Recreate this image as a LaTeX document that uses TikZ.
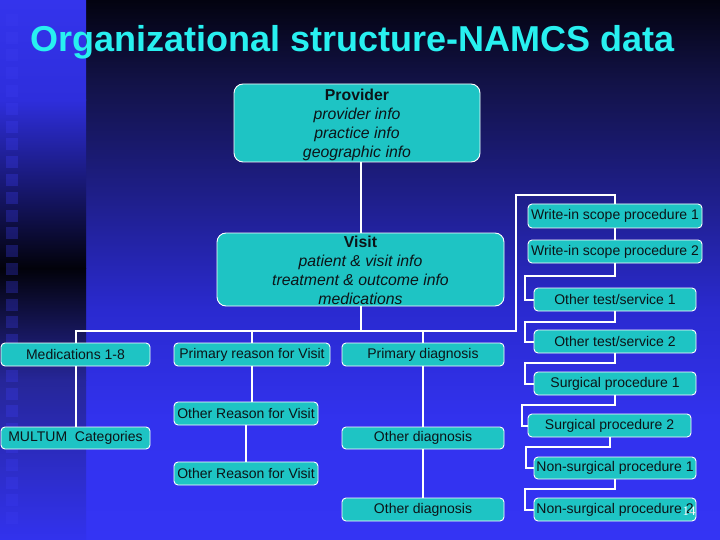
\documentclass[tikz,border=0pt]{standalone}
\usepackage{fontspec}
\setmainfont{Liberation Sans}
\newfontfamily\numfont{Liberation Serif}
\definecolor{boxfill}{RGB}{30,196,196}
\definecolor{titlecyan}{RGB}{40,240,240}
\definecolor{mA}{RGB}{3,3,16}
\definecolor{mB}{RGB}{18,18,70}
\definecolor{mC}{RGB}{31,31,140}
\definecolor{mD}{RGB}{42,42,208}
\definecolor{mE}{RGB}{50,50,238}
\definecolor{mF}{RGB}{52,52,244}
\definecolor{sA}{RGB}{52,52,236}
\definecolor{sB}{RGB}{46,46,220}
\definecolor{sC}{RGB}{2,2,10}
\definecolor{sD}{RGB}{38,38,152}
\definecolor{sE}{RGB}{50,50,238}
\definecolor{sqcol}{RGB}{60,60,240}
\definecolor{txt}{RGB}{12,20,24}
\tikzset{
  box/.style={draw=white, line width=0.9pt, fill=boxfill, rounded corners=4pt,
    inner sep=0pt, minimum height=23pt, text=txt,
    font=\fontsize{14}{16}\selectfont},
  bigbox/.style={box, rounded corners=9pt, align=center,
    font=\fontsize{15.8}{19}\selectfont},
  conn/.style={draw=white, line width=2pt},
}
\begin{document}
\begin{tikzpicture}[x=1pt,y=-1pt]
\useasboundingbox (0,0) rectangle (720,540);
% background main area
\fill[top color=mA, bottom color=mB] (86,0) rectangle (720,80.5);
\fill[top color=mB, bottom color=mC] (86,80) rectangle (720,200.5);
\fill[top color=mC, bottom color=mD] (86,200) rectangle (720,310.5);
\fill[top color=mD, bottom color=mE] (86,310) rectangle (720,420.5);
\fill[top color=mE, bottom color=mF] (86,420) rectangle (720,540);
% left strip
\fill[top color=sA, bottom color=sB] (0,0) rectangle (86,100.5);
\fill[top color=sB, bottom color=sC] (0,100) rectangle (86,268.5);
\fill[top color=sC, bottom color=sD] (0,268) rectangle (86,380.5);
\fill[top color=sD, bottom color=sE] (0,380) rectangle (86,540);
\foreach \i in {0,...,28}
  \fill[sqcol, opacity=0.3] (6,{13.8+17.8*\i}) rectangle ++(12,12);

% title
\node[anchor=base west, text=titlecyan, inner sep=0pt,
  font=\fontsize{36}{40}\selectfont\bfseries] (title) at (30,52)
  {Organizational structure-NAMCS data};

% big boxes
\node[bigbox, minimum width=246pt, minimum height=78pt] (prov) at (357,123)
  {\rule{0pt}{15pt}\textbf{Provider}\\\textit{provider info}\\\textit{practice info}\\\textit{geographic info}};
\node[bigbox, minimum width=287pt, minimum height=73pt] (visit) at (360.5,269.5)
  {\rule{0pt}{13.5pt}\textbf{Visit}\\\textit{patient \& visit info}\\\textit{treatment \& outcome info}\\\textit{medications}};

% left columns
\node[box, minimum width=149pt] (med) at (75.5,354.5) {Medications 1-8};
\node[box, minimum width=149pt, minimum height=22pt] (multum) at (75.5,438) {MULTUM~ Categories};
\node[box, minimum width=156pt] (prim) at (252,354.5) {Primary reason for Visit};
\node[box, minimum width=144pt] (oth1) at (246,413.5) {Other Reason for Visit};
\node[box, minimum width=144pt] (oth2) at (246,473.5) {Other Reason for Visit};
\node[box, minimum width=162pt] (pdx) at (423,354.5) {Primary diagnosis};
\node[box, minimum width=162pt, minimum height=22pt] (odx1) at (423,438) {Other diagnosis};
\node[box, minimum width=162pt] (odx2) at (423,509.5) {Other diagnosis};

% right chain
\node[box, minimum width=174pt, minimum height=24pt] (w1) at (615,216) {Write-in scope procedure 1};
\node[box, minimum width=174pt] (w2) at (615,251.5) {Write-in scope procedure 2};
\node[box, minimum width=162pt] (ot1) at (615,299.5) {Other test/service 1};
\node[box, minimum width=162pt] (ot2) at (615,341.5) {Other test/service 2};
\node[box, minimum width=162pt] (s1) at (615,383.5) {Surgical procedure 1};
\node[box, minimum width=163pt] (s2) at (609.5,425.5) {Surgical procedure 2};
\node[box, minimum width=162pt, minimum height=22pt] (n1) at (615,468) {Non-surgical procedure 1};
\node[box, minimum width=162pt] (n2) at (615,509.5) {Non-surgical procedure 2};

% slide number
\node[font=\numfont\fontsize{13}{13}\selectfont, text=white, inner sep=0pt] (pgnum) at (689,511) {14};

% junction coordinates
\coordinate (busR) at (516,331);
\coordinate (tr) at (615,195);
\coordinate (j1) at (525,276);
\coordinate (j2) at (525,322);
\coordinate (j3) at (525,363);
\coordinate (j4) at (522,405);
\coordinate (j5) at (526,447);
\coordinate (j6) at (525,489);

% connectors
\draw[conn] (visit.north) -- (visit.north |- prov.south);
\draw[conn] (visit.south) -- (visit.south |- busR);
\draw[conn] (med.north) |- (busR) |- (tr) -- (w1.north);
\draw[conn] (prim.north) -- (prim.north |- busR);
\draw[conn] (pdx.north) -- (pdx.north |- busR);
\draw[conn] (med.south) -- (multum.north);
\draw[conn] (prim.south) -- (prim.south |- oth1.north);
\draw[conn] (oth1.south) -- (oth2.north);
\draw[conn] (pdx.south) -- (odx1.north);
\draw[conn] (odx1.south) -- (odx2.north);
\draw[conn] (w1.south) -- (w2.north);
\draw[conn] (w2.south) |- (j1) |- (ot1.west);
\draw[conn] (ot1.south) |- (j2) |- (ot2.west);
\draw[conn] (ot2.south) |- (j3) |- (s1.west);
\draw[conn] (s1.south) |- (j4) |- (s2.west);
\draw[conn] (s2.south) |- (j5) |- (n1.west);
\draw[conn] (n1.south) |- (j6) |- (n2.west);
\end{tikzpicture}
\end{document}
